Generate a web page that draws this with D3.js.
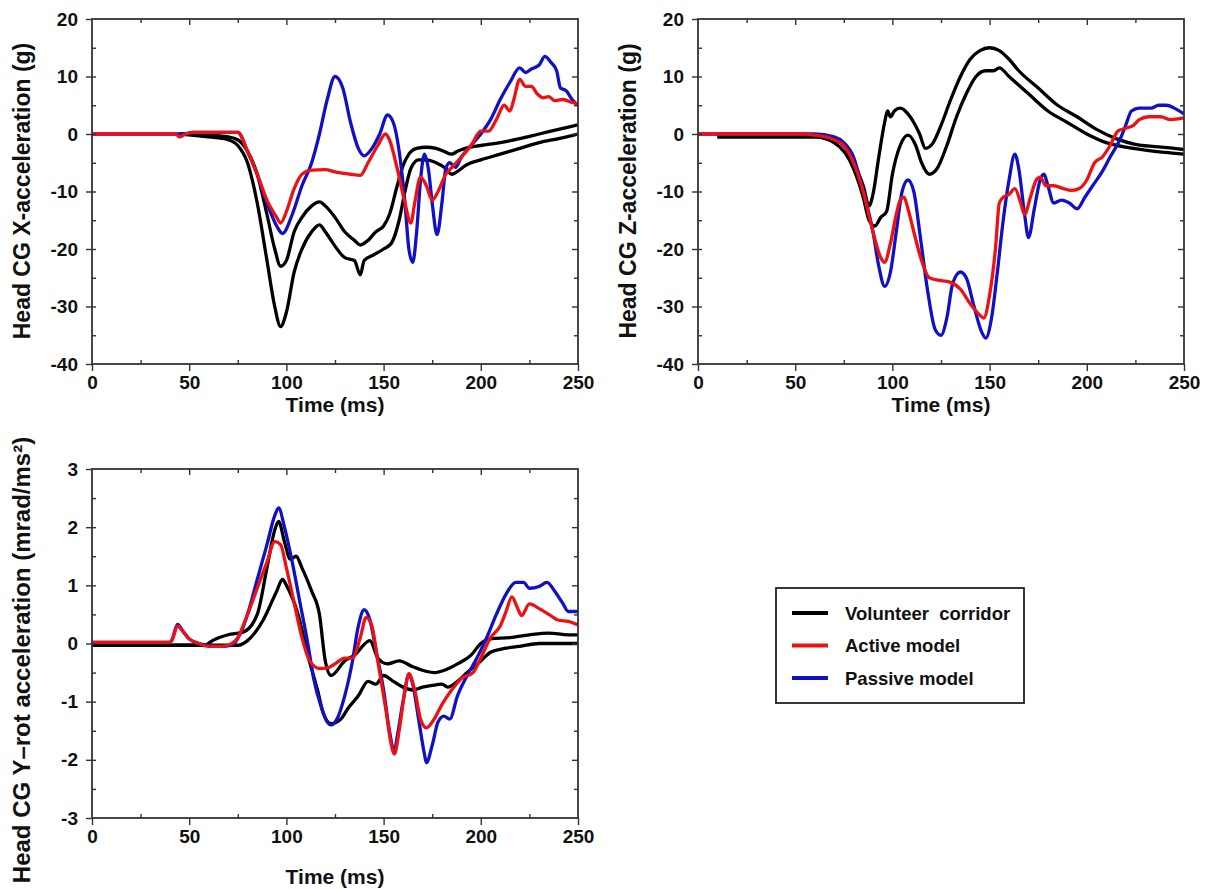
<!DOCTYPE html>
<html>
<head>
<meta charset="utf-8">
<script src="https://cdn.jsdelivr.net/npm/d3@7"></script>
<style>
  body { margin: 0; background: #fff; }
  svg text { font-family: "Liberation Sans", Arial, sans-serif; font-weight: bold; fill: #111; }
</style>
</head>
<body>
<svg id="chart" width="1206" height="889"></svg>
<script>
// Time ticks shared by all panels
const timeTicks = [0, 50, 100, 150, 200, 250];
const accTicks = [20, 10, 0, -10, -20, -30, -40];
const rotTicks = [3, 2, 1, 0, -1, -2, -3];

// Head CG X-acceleration (g): [time ms, value]
const xVolUpper = [[45,0],[60,-0.2],[70,-0.5],[75,-1],[80,-3],[85,-7],[90,-14],[94,-20],[97,-23],[100,-22],[104,-17],[108,-14.5],[113,-12.5],[117,-11.8],[120,-12.5],[125,-14.5],[130,-17],[135,-18.5],[138,-19.3],[142,-18.5],[146,-17],[150,-16],[153,-14],[157,-9],[160,-5.5],[163,-3.5],[167,-2.5],[172,-2.3],[177,-2.5],[181,-3],[185,-3.5],[188,-3],[192,-2.5],[200,-2],[210,-1.5],[220,-0.8],[230,0],[240,0.8],[250,1.6]];
const xVolLower = [[45,0],[60,-0.5],[70,-1],[75,-2],[80,-5],[85,-12],[90,-22],[94,-30],[97,-33.5],[100,-31],[104,-24],[108,-20],[113,-17],[117,-15.8],[120,-17],[125,-19.5],[130,-21.5],[135,-22],[138,-24.5],[140,-22],[145,-21],[150,-20],[154,-19],[158,-15],[161,-10],[164,-6],[168,-4.5],[172,-4.5],[177,-5],[182,-6],[185,-7],[188,-6.5],[192,-5.5],[200,-4.5],[210,-3.5],[220,-2.5],[230,-1.5],[240,-0.8],[250,0]];
const xActive = [[0,0],[43,0],[45,-0.5],[48,0],[52,0.3],[75,0.3],[80,-3],[85,-7],[90,-11.5],[95,-14.5],[97,-15.5],[100,-13.5],[104,-9.5],[108,-7],[113,-6.3],[120,-6.2],[125,-6.6],[133,-7],[138,-7.2],[142,-5],[147,-2],[151,0],[153,-1],[157,-6],[161,-12],[164,-15.5],[166,-12],[169,-7.5],[172,-9],[175,-11.5],[178,-10],[182,-7],[186,-5.5],[190,-4],[195,-2],[200,0.5],[204,0.5],[208,2.5],[212,5],[215,4],[217,6],[220,9.5],[223,8.3],[226,8.3],[229,7],[232,6.3],[235,6.5],[238,5.8],[242,6],[246,5.6],[250,5.2]];
const xPassive = [[0,0],[48,0],[52,0.3],[75,0.3],[80,-3],[85,-7],[90,-12],[95,-16],[98,-17.3],[103,-14],[108,-9],[113,-5],[117,0],[121,6],[125,10],[129,8],[133,2],[137,-2.5],[140,-3.8],[144,-2.5],[148,0],[152,3.3],[155,2],[158,-3],[161,-12],[163,-20],[165,-22.3],[167,-17],[169,-8],[171,-3.5],[173,-6],[175,-12],[177.5,-17.5],[180,-12],[182,-6],[184,-5],[187,-5.8],[190,-4],[195,-2],[200,0],[205,2.5],[210,6],[215,9],[220,11.5],[223,10.7],[226,11.3],[230,12],[233,13.5],[236,12.5],[239,11],[241,8],[244,7.5],[247,6],[250,5]];

// Head CG Z-acceleration (g)
const zVolUpper = [[10,-0.5],[65,-0.5],[70,-1],[75,-2],[80,-5],[85,-9],[88,-12.5],[90,-10.5],[93,-4],[96,2],[97.5,4],[99,3],[101,4],[104,4.5],[108,3.5],[111,2],[114,0],[117,-2.5],[121,-1.5],[125,1.5],[130,6],[135,10],[140,13],[145,14.5],[150,15],[155,14.5],[160,13],[165,11],[175,8],[185,5],[195,3],[205,0.8],[215,-0.8],[225,-1.8],[235,-2.2],[245,-2.5],[250,-2.7]];
const zVolLower = [[10,-0.5],[60,-0.5],[70,-1.5],[80,-6],[85,-11],[88,-15],[91,-16],[94,-14.5],[97,-13.5],[100,-7],[104,-2],[108,-0.2],[112,-2],[115,-5],[119,-7],[123,-6],[128,-2],[133,3],[138,7],[143,10],[148,11],[152,11],[155,11.5],[160,10],[170,7],[180,4],[190,2],[200,0],[210,-1.5],[220,-2.3],[230,-2.8],[240,-3.2],[250,-3.5]];
const zActive = [[0,0],[55,0],[60,-0.2],[70,-1],[75,-2],[80,-5],[85,-10],[90,-17],[94,-21.5],[96,-22.3],[99,-19],[102,-14],[104,-11.5],[106,-11],[108,-13],[111,-17],[115,-22],[119,-25],[125,-25.5],[130,-25.8],[135,-27],[140,-29.5],[145,-31.5],[147,-32],[150,-28],[153,-20],[155,-12],[157,-11],[160,-10.5],[163,-9.5],[166,-12],[168,-14],[171,-11],[174,-8],[176,-7.5],[179,-9],[183,-9],[188,-9.5],[192,-9.8],[196,-9.5],[200,-8],[204,-5],[208,-4],[212,-2],[216,0.5],[220,1],[224,1.5],[227,2.5],[232,3],[238,3],[243,2.5],[250,2.8]];
const zPassive = [[0,0],[60,0],[70,-0.5],[75,-1.5],[80,-4],[85,-10],[90,-17],[93,-23],[96,-26.5],[99,-24],[102,-17],[105,-10],[108,-8],[111,-10],[114,-17],[118,-27],[122,-34],[125,-35],[128,-32],[131,-26],[135,-24],[138,-25],[142,-30],[146,-34.5],[148,-35.5],[151,-32],[154,-24],[157,-15],[160,-8],[163,-3.5],[165,-6],[168,-14],[170,-18],[173,-13],[176,-8],[178,-7],[180,-9],[183,-12],[187,-11.5],[191,-12],[195,-13],[199,-11],[203,-9],[208,-6.5],[212,-4],[217,-1],[220,1.5],[223,4],[227,4.5],[233,4.5],[237,5],[241,5],[245,4.5],[250,3.5]];

// Head CG Y-rot acceleration (mrad/ms^2)
const rVolUpper = [[0,-0.03],[58,-0.03],[62,0.05],[70,0.15],[78,0.2],[85,0.5],[90,1.3],[94,1.95],[96,2.1],[99,1.75],[102,1.45],[105,1.5],[108,1.3],[113,0.9],[117,0.5],[120,-0.3],[123,-0.55],[130,-0.3],[135,-0.2],[143,0.05],[147,-0.25],[152,-0.35],[158,-0.3],[165,-0.4],[172,-0.48],[176,-0.5],[182,-0.45],[188,-0.35],[195,-0.2],[200,0],[205,0.08],[215,0.1],[225,0.15],[235,0.18],[245,0.15],[250,0.15]];
const rVolLower = [[0,-0.03],[75,-0.03],[80,0.05],[88,0.4],[95,0.9],[98,1.1],[100,1.0],[106,0.5],[111,-0.2],[116,-0.8],[119,-1.2],[123,-1.38],[128,-1.3],[132,-1.1],[137,-0.9],[142,-0.65],[146,-0.7],[150,-0.55],[155,-0.65],[160,-0.75],[165,-0.8],[170,-0.75],[175,-0.72],[180,-0.7],[183,-0.75],[188,-0.65],[193,-0.5],[200,-0.3],[205,-0.15],[210,-0.1],[220,-0.05],[230,0],[250,0]];
const rActive = [[0,0.02],[40,0.02],[41,0.05],[44,0.3],[47,0.2],[50,0.08],[55,0],[60,-0.05],[66,-0.05],[70,-0.03],[75,0.1],[80,0.5],[85,0.95],[90,1.4],[94,1.75],[97,1.7],[100,1.3],[104,0.7],[108,0.1],[112,-0.3],[117,-0.43],[121,-0.42],[125,-0.35],[130,-0.25],[134,-0.25],[138,0.1],[141,0.45],[144,0.3],[147,-0.3],[151,-1.1],[154,-1.75],[155.5,-1.9],[158,-1.5],[161,-0.8],[163,-0.52],[166,-0.8],[169,-1.3],[172,-1.45],[176,-1.3],[180,-1.05],[185,-0.8],[190,-0.6],[196,-0.5],[200,-0.25],[205,0.1],[210,0.3],[213,0.55],[216,0.8],[219,0.6],[221,0.48],[225,0.68],[230,0.6],[235,0.5],[240,0.4],[245,0.38],[250,0.32]];
const rPassive = [[0,0.02],[40,0.02],[41,0.05],[44,0.33],[47,0.2],[50,0.08],[55,0],[60,-0.03],[66,-0.05],[72,-0.03],[76,0.15],[80,0.5],[85,1.1],[90,1.7],[94,2.2],[96,2.33],[99,2.0],[103,1.4],[107,0.7],[111,0],[114,-0.6],[118,-1.1],[121,-1.35],[123,-1.4],[126,-1.3],[130,-0.9],[134,-0.3],[137,0.3],[140,0.58],[143,0.4],[146,-0.1],[150,-0.8],[153,-1.5],[155.5,-1.85],[157,-1.6],[160,-1.0],[163,-0.55],[165,-0.7],[168,-1.3],[171,-1.9],[172,-2.05],[175,-1.75],[178,-1.35],[181,-1.25],[184,-1.3],[188,-0.9],[193,-0.55],[198,-0.25],[203,0.1],[208,0.5],[213,0.85],[218,1.05],[222,1.05],[225,0.95],[230,0.98],[234,1.05],[238,0.9],[242,0.7],[245,0.55],[250,0.55]];

const legendLabels = ["Volunteer  corridor", "Active model", "Passive model"];
const colors = ["#000000", "#ee1111", "#1010c4"];

const svg = d3.select("#chart");

function drawPanel(opt) {
  const {left, right, top, bottom, yDomain, yTicks, yMinor, yTitle, titleSize, titleX, titleY, xTitleY, series} = opt;
  const x = d3.scaleLinear().domain([0, 250]).range([left, right]);
  const y = d3.scaleLinear().domain(yDomain).range([bottom, top]);
  const g = svg.append("g");
  const clipId = "clip" + Math.round(left) + Math.round(top);
  g.append("clipPath").attr("id", clipId)
    .append("rect").attr("x", left).attr("y", top).attr("width", right - left).attr("height", bottom - top);

  // lines
  const line = d3.line().x(d => x(d[0])).y(d => y(d[1])).curve(d3.curveMonotoneX);
  const lg = g.append("g").attr("clip-path", `url(#${clipId})`);
  series.forEach(s => {
    lg.append("path").datum(s.data)
      .attr("fill", "none").attr("stroke", s.color)
      .attr("stroke-width", 3.3).attr("stroke-linejoin", "round")
      .attr("d", line);
  });

  // axes: major ticks out on left/bottom, minor ticks inward
  const fmt = d => String(d);
  const minorX = d3.range(25, 250, 50);
  const axisColor = "#333";
  g.append("g").attr("transform", `translate(0,${bottom})`)
    .call(d3.axisBottom(x).tickValues(timeTicks).tickSize(7).tickPadding(5).tickFormat(fmt));
  g.append("g").attr("transform", `translate(${left},0)`)
    .call(d3.axisLeft(y).tickValues(yTicks).tickSize(6).tickPadding(8).tickFormat(fmt));
  g.append("g").attr("transform", `translate(0,${top})`)
    .call(d3.axisBottom(x).tickValues(timeTicks.slice(1, -1)).tickSize(6).tickFormat(""));
  g.append("g").attr("transform", `translate(${right},0)`)
    .call(d3.axisLeft(y).tickValues(yTicks.slice(1, -1)).tickSize(6).tickFormat(""));
  // minor ticks
  g.append("g").attr("transform", `translate(0,${bottom})`)
    .call(d3.axisTop(x).tickValues(minorX).tickSize(4).tickFormat(""));
  g.append("g").attr("transform", `translate(0,${top})`)
    .call(d3.axisBottom(x).tickValues(minorX).tickSize(4).tickFormat(""));
  g.append("g").attr("transform", `translate(${left},0)`)
    .call(d3.axisRight(y).tickValues(yMinor.concat(yTicks.slice(1, -1))).tickSize(4).tickFormat(""));
  g.append("g").attr("transform", `translate(${right},0)`)
    .call(d3.axisLeft(y).tickValues(yMinor).tickSize(4).tickFormat(""));
  g.selectAll(".domain").remove();
  g.selectAll(".tick line").attr("stroke", axisColor).attr("stroke-width", 1.4);
  g.selectAll(".tick text").style("font-size", "19px").attr("fill", "#111");

  g.append("rect").attr("x", left).attr("y", top).attr("width", right - left).attr("height", bottom - top)
    .attr("fill", "none").attr("stroke", axisColor).attr("stroke-width", 1.8);

  g.append("text").attr("x", (left + right) / 2).attr("y", xTitleY)
    .attr("text-anchor", "middle").style("font-size", "21px").text("Time (ms)");
  g.append("text").attr("transform", `translate(${titleX},${titleY}) rotate(-90)`)
    .attr("text-anchor", "middle").style("font-size", titleSize + "px").text(yTitle);
}

const accMinor = d3.range(-35, 20, 10);
const rotMinor = [-2.5, -1.5, -0.5, 0.5, 1.5, 2.5];

drawPanel({left: 92, right: 578, top: 19, bottom: 364, yDomain: [-40, 20], yTicks: accTicks, yMinor: accMinor,
  yTitle: "Head CG X-acceleration (g)", titleSize: 23, titleX: 30, titleY: 191, xTitleY: 412,
  series: [{data: xVolUpper, color: colors[0]}, {data: xVolLower, color: colors[0]},
           {data: xPassive, color: colors[2]}, {data: xActive, color: colors[1]}]});

drawPanel({left: 698, right: 1184, top: 19, bottom: 364, yDomain: [-40, 20], yTicks: accTicks, yMinor: accMinor,
  yTitle: "Head CG Z-acceleration (g)", titleSize: 23, titleX: 636, titleY: 191, xTitleY: 412,
  series: [{data: zVolUpper, color: colors[0]}, {data: zVolLower, color: colors[0]},
           {data: zPassive, color: colors[2]}, {data: zActive, color: colors[1]}]});

drawPanel({left: 92, right: 578, top: 469, bottom: 818, yDomain: [-3, 3], yTicks: rotTicks, yMinor: rotMinor,
  yTitle: "Head CG Y\u2013rot acceleration (mrad/ms\u00b2)", titleSize: 24, titleX: 30, titleY: 660, xTitleY: 884,
  series: [{data: rVolUpper, color: colors[0]}, {data: rVolLower, color: colors[0]},
           {data: rPassive, color: colors[2]}, {data: rActive, color: colors[1]}]});

// legend
const legend = svg.append("g");
legend.append("rect").attr("x", 776).attr("y", 588).attr("width", 248).attr("height", 115)
  .attr("fill", "#fff").attr("stroke", "#222").attr("stroke-width", 1.8);
const ly = d3.scalePoint().domain(legendLabels).range([613, 678]);
legendLabels.forEach((lab, i) => {
  legend.append("line").attr("x1", 792).attr("x2", 828).attr("y1", ly(lab)).attr("y2", ly(lab))
    .attr("stroke", colors[i]).attr("stroke-width", 4);
  legend.append("text").attr("x", 845).attr("y", ly(lab)).attr("dy", "0.36em")
    .style("font-size", "18.5px").style("white-space", "pre").text(lab);
});
</script>
</body>
</html>
